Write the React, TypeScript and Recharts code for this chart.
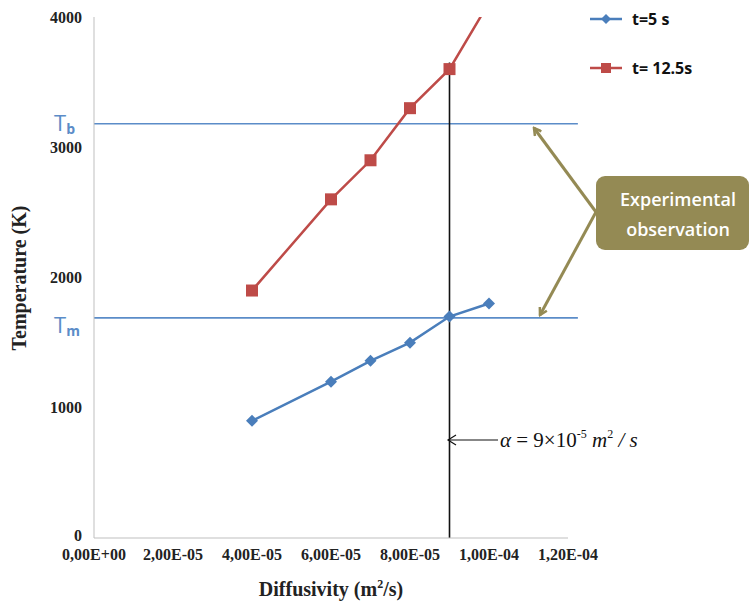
import { LineChart, Line, XAxis, YAxis, ReferenceLine, Customized } from 'recharts';

// diffusivity (m2/s) of the sampled points
const diffusivity = [4e-5, 6e-5, 7e-5, 8e-5, 9e-5, 1e-4];
// temperatures (K)
const temp5s = [900, 1200, 1360, 1500, 1700, 1800];
const temp12s = [1900, 2600, 2900, 3300, 3600, 4110];

const xTicks = [0, 2e-5, 4e-5, 6e-5, 8e-5, 1e-4, 1.2e-4];
const xTickLabels = ['0,00E+00', '2,00E-05', '4,00E-05', '6,00E-05', '8,00E-05', '1,00E-04', '1,20E-04'];
const yTicks = [0, 1000, 2000, 3000, 4000];

const T_BOIL = 3180;
const T_MELT = 1690;
const ALPHA = 9e-5;
const ALPHA_TOP = 3650;

const blueData = diffusivity.map((d, i) => ({ d, t: temp5s[i] }));
const redData = diffusivity.map((d, i) => ({ d, t: temp12s[i] }));

const BLUE = '#4a7ebb';
const RED = '#be4b48';
const REF = '#5b8cc8';
const OLIVE = '#948a54';
const serif = '"Liberation Serif", "Times New Roman", serif';
const sans = '"Open Sans", "Liberation Sans", Arial, sans-serif';

const Diamond = (props: any) => {
    const { cx, cy, index } = props;
    return <path key={`dm-${index}`} d={`M${cx},${cy - 6} L${cx + 6},${cy} L${cx},${cy + 6} L${cx - 6},${cy} Z`} fill={BLUE} />;
};

const Square = (props: any) => {
    const { cx, cy, index } = props;
    return <rect key={`sq-${index}`} x={cx - 6} y={cy - 6} width={12} height={12} fill={RED} />;
};

// the "0" sits a little higher so it doesn't run into the x labels
const YTick = (props: any) => {
    const { x, y, payload } = props;
    return (
        <text x={x} y={payload.value === 0 ? y - 3 : y} dy="0.355em" textAnchor="end"
            fontFamily={serif} fontWeight="bold" fontSize={16} fill="#222">
            {payload.value}
        </text>
    );
};

const LegendBox = () => (
    <div style={{ position: 'absolute', left: 588, top: 9, fontFamily: sans, fontWeight: 'bold', fontSize: 16, color: '#111' }}>
        <div style={{ display: 'flex', alignItems: 'center', height: 20 }}>
            <svg width={36} height={14}>
                <line x1={2} y1={7} x2={34} y2={7} stroke={BLUE} strokeWidth={2.5} />
                <path d="M18,2 L23,7 L18,12 L13,7 Z" fill={BLUE} />
            </svg>
            <span style={{ marginLeft: 8 }}>t=5 s</span>
        </div>
        <div style={{ display: 'flex', alignItems: 'center', height: 20, marginTop: 29 }}>
            <svg width={36} height={14}>
                <line x1={2} y1={7} x2={34} y2={7} stroke={RED} strokeWidth={2.5} />
                <rect x={13} y={2} width={10} height={10} fill={RED} />
            </svg>
            <span style={{ marginLeft: 8 }}>t= 12.5s</span>
        </div>
    </div>
);

// texte et flèches posés sur le graphique
const Annotations = () => (
    <g>
        <defs>
            <marker id="oliveHead" markerWidth="10" markerHeight="10" refX="8" refY="5" orient="auto" markerUnits="userSpaceOnUse">
                <path d="M1,1 L8,5 L1,9" fill="none" stroke={OLIVE} strokeWidth={2.5} />
            </marker>
            <marker id="blackHead" markerWidth="12" markerHeight="12" refX="10" refY="6" orient="auto" markerUnits="userSpaceOnUse">
                <path d="M2,1 L10,6 L2,11" fill="none" stroke="#111" strokeWidth={1.2} />
            </marker>
        </defs>

        {/* T_b and T_m on the left */}
        <text x={54} y={131} fill={REF} fontFamily={sans} fontSize={22}>T<tspan fontSize={14} dy={3} fontWeight="bold">b</tspan></text>
        <text x={54} y={333} fill={REF} fontFamily={sans} fontSize={22}>T<tspan fontSize={14} dy={3} fontWeight="bold">m</tspan></text>

        {/* axis titles */}
        <text x={26} y={278} transform="rotate(-90 26 278)" textAnchor="middle" fontFamily={serif} fontWeight="bold" fontSize={20} fill="#222">Temperature (K)</text>
        <text x={331} y={596} textAnchor="middle" fontFamily={serif} fontWeight="bold" fontSize={20} fill="#222">Diffusivity (m<tspan fontSize={12} dy={-8}>2</tspan><tspan dy={8}>/s)</tspan></text>

        {/* alpha arrow */}
        <line x1={498} y1={440} x2={448} y2={440} stroke="#111" strokeWidth={1.2} markerEnd="url(#blackHead)" />
        <text x={500} y={447} fontFamily={serif} fontSize={21} fill="#111">
            <tspan fontStyle="italic">α</tspan> = 9×10<tspan fontSize={12} dy={-9}>-5</tspan>
            <tspan dy={9} fontStyle="italic"> m</tspan><tspan fontSize={12} dy={-9}>2</tspan>
            <tspan dy={9} fontStyle="italic"> / s</tspan>
        </text>

        {/* experimental observation */}
        <line x1={596} y1={212} x2={534} y2={128} stroke={OLIVE} strokeWidth={3} markerEnd="url(#oliveHead)" />
        <line x1={596} y1={212} x2={540} y2={315} stroke={OLIVE} strokeWidth={3} markerEnd="url(#oliveHead)" />
        <rect x={596} y={176} width={153} height={74} rx={9} fill={OLIVE} />
        <text x={678} y={206} textAnchor="middle" fontFamily={sans} fontSize={18} fontWeight={600} fill="#fff">Experimental</text>
        <text x={678} y={236} textAnchor="middle" fontFamily={sans} fontSize={18} fontWeight={600} fill="#fff">observation</text>
    </g>
);

export default function App() {
    return (
        <div style={{ position: 'absolute', left: 0, top: 0, width: 756, height: 606, background: '#fff' }}>
            <LineChart width={756} height={606} margin={{ top: 17, right: 188, bottom: 0, left: 0 }}>
                <XAxis
                    dataKey="d"
                    type="number"
                    domain={[0, 1.2e-4]}
                    ticks={xTicks}
                    tickFormatter={(_v: number, i: number) => xTickLabels[i]}
                    height={68}
                    stroke="#bfbfbf"
                    tickLine={false}
                    tickMargin={5}
                    interval={0}
                    tick={{ fontFamily: serif, fontWeight: 'bold', fontSize: 16, fill: '#222' }}
                    allowDataOverflow
                />
                <YAxis
                    type="number"
                    domain={[0, 4000]}
                    ticks={yTicks}
                    width={94}
                    stroke="#bfbfbf"
                    tickLine={false}
                    tickMargin={6}
                    tick={<YTick />}
                    allowDataOverflow
                />
                <ReferenceLine segment={[{ x: 0, y: T_BOIL }, { x: 1.225e-4, y: T_BOIL }]} stroke={REF} strokeWidth={1.6} ifOverflow="visible" />
                <ReferenceLine segment={[{ x: 0, y: T_MELT }, { x: 1.225e-4, y: T_MELT }]} stroke={REF} strokeWidth={1.6} ifOverflow="visible" />
                <ReferenceLine segment={[{ x: ALPHA, y: 0 }, { x: ALPHA, y: ALPHA_TOP }]} stroke="#111" strokeWidth={1.6} ifOverflow="visible" />
                <Line data={redData} dataKey="t" stroke={RED} strokeWidth={2.5} dot={Square} isAnimationActive={false} name="t= 12.5s" />
                <Line data={blueData} dataKey="t" stroke={BLUE} strokeWidth={2.5} dot={Diamond} isAnimationActive={false} name="t=5 s" />
                <Customized component={Annotations} />
            </LineChart>
            <LegendBox />
        </div>
    );
}
